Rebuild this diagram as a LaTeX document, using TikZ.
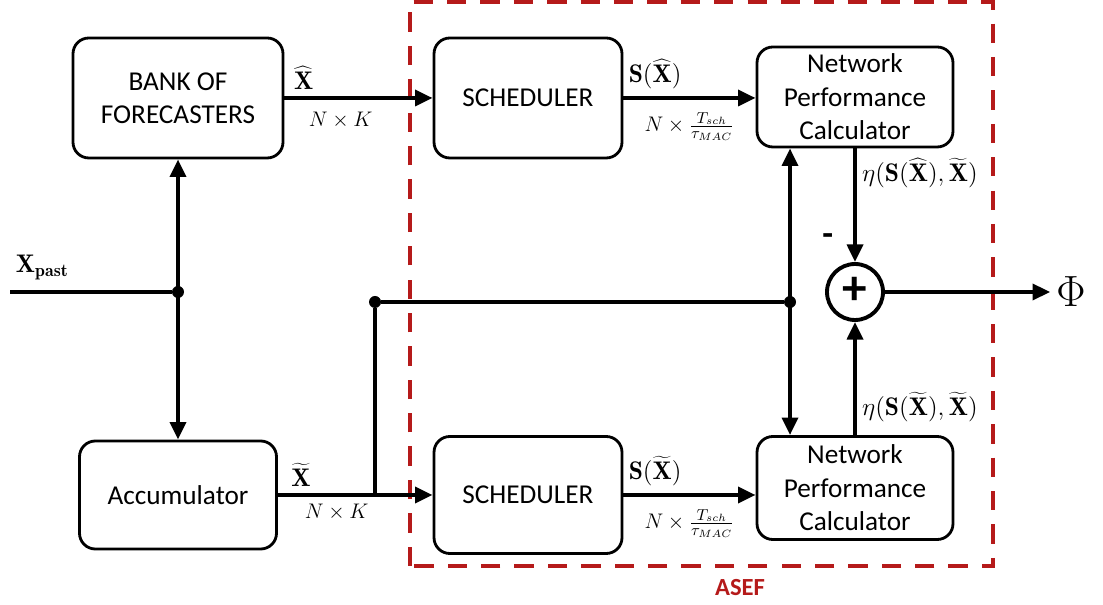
\documentclass[tikz,border=0pt]{standalone}
\usepackage{fontspec}
\usetikzlibrary{arrows.meta,positioning,calc}
\newfontfamily\boxfont{Carlito}
\definecolor{casef}{HTML}{B51A1A}
\newcommand{\hatX}{\widehat{\mathbf{X}}}
\newcommand{\tilX}{\widetilde{\mathbf{X}}}
\newcommand{\ratio}{$N\times\frac{T_{sch}}{\tau_{MAC}}$}

\begin{document}
\begin{tikzpicture}[
  font=\boxfont\fontsize{15.5}{19}\selectfont,
  block/.style={draw, line width=1.6pt, rounded corners=9pt, align=center,
                minimum width=#1, inner sep=2pt},
  flow/.style={-{Triangle[length=10pt, width=9pt]}, line width=2.2pt},
  both/.style={{Triangle[length=10pt, width=9pt]}-{Triangle[length=10pt, width=9pt]}, line width=2.2pt},
  wire/.style={line width=2.2pt},
  dot/.style={circle, fill, inner sep=0pt, minimum size=0.24cm},
  lbl/.style={font=\fontsize{13}{15}\selectfont, inner sep=1pt},
  eta/.style={font=\fontsize{14.5}{16}\selectfont, inner sep=1pt},
]
\useasboundingbox (0,0) rectangle (22.06,12.1);

% ------------------------------------------------------------ ASEF frame
\draw[casef, line width=2.8pt, dash pattern=on 11pt off 8pt] (8.2,0.78) rectangle (19.86,12.06);
\node[font=\boxfont\bfseries\fontsize{14}{16}\selectfont, text=casef] (asef) at (14.8,0.34) {ASEF};

% ------------------------------------------------------------ blocks
\node[block=4.2cm, minimum height=2.4cm] (bank) at (3.56,10.14) {BANK OF\\FORECASTERS};
\node[block=3.94cm, minimum height=2.16cm] (acc) at (3.56,2.2) {Accumulator};
\node[block=3.76cm, minimum height=2.4cm] (sch1) at (10.56,10.14) {SCHEDULER};
\node[block=3.76cm, minimum height=2.34cm] (sch2) at (10.56,2.2) {SCHEDULER};
\node[block=3.92cm, minimum height=2.0cm] (npc1) at (17.1,10.16) {Network\\Performance\\Calculator};
\node[block=3.92cm, minimum height=2.06cm] (npc2) at (17.1,2.34) {Network\\Performance\\Calculator};
\node[draw, circle, line width=2.2pt, minimum size=1.12cm, inner sep=0pt,
      font=\boxfont\bfseries\fontsize{28}{28}\selectfont] (sum) at (17.1,6.26) {\raisebox{1pt}{+}};

% ------------------------------------------------------------ junctions
\coordinate (xin) at (0.2,6.26);
\node[dot] (j1) at (3.56,6.26) {};
\node[dot] (j2) at (7.5,6.06) {};
\node[dot] (j3) at (15.8,6.06) {};
\coordinate (j4) at (7.5,2.2);
\node[font=\fontsize{26}{26}\selectfont] (phi) at (21.42,6.26) {$\Phi$};

% ------------------------------------------------------------ connectors
\draw[wire] (xin) -- node[eta, pos=0.2, above=5pt]{$\mathbf{X}_{\mathbf{past}}$} (j1);
\draw[both] (bank.south) -- (acc.north);
\draw[wire] (j4) -- (j2) -- (j3);
\draw[both] (j3 |- npc1.south) -- (j3 |- npc2.north);

\draw[flow] (bank.east) -- node[eta, pos=0.13, above=3pt]{$\hatX$} node[lbl, pos=0.38, below=6pt]{$N\times K$} (sch1.west);
\draw[flow] (acc.east) -- node[eta, pos=0.15, above=3pt]{$\tilX$} node[lbl, pos=0.38, below=3pt]{$N\times K$} (sch2.west);
\draw[flow] (sch1.east) -- node[eta, pos=0.24, above=3pt]{$\mathbf{S}(\hatX)$} node[lbl, pos=0.5, below=6pt]{\ratio} (sch1.east -| npc1.west);
\draw[flow] (sch2.east) -- node[eta, pos=0.24, above=3pt]{$\mathbf{S}(\tilX)$} node[lbl, pos=0.5, below=6pt]{\ratio} (sch2.east -| npc2.west);

\draw[flow] (npc1.south) -- node[eta, pos=0.22, right=2pt]{$\eta\bigl(\mathbf{S}\bigl(\hatX\bigr),\tilX\bigr)$}
  node[pos=0.8, left=8pt, font=\boxfont\bfseries\fontsize{20}{20}\selectfont]{-} (sum.north);
\draw[flow] (npc2.north) -- node[eta, pos=0.25, right=2pt]{$\eta\bigl(\mathbf{S}\bigl(\tilX\bigr),\tilX\bigr)$} (sum.south);
\draw[flow] (sum.east) -- (phi.west);

\end{tikzpicture}
\end{document}
